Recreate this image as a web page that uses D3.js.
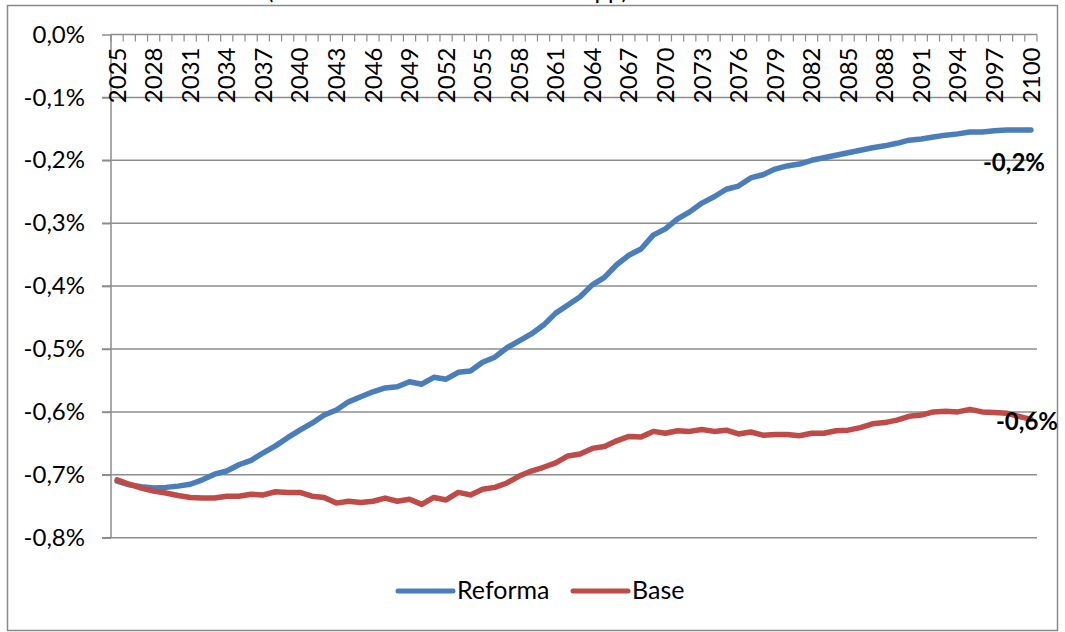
<!DOCTYPE html>
<meta charset="utf-8">
<style>
  body { margin: 0; background: #fff; }
  svg { font-family: "Lato", "Open Sans", sans-serif; }
</style>
<svg width="1065" height="632"></svg>
<script src="https://d3js.org/d3.v7.min.js"></script>
<script>

// years on the category axis
var years = d3.range(2025, 2101);

// label every third year
var tickYears = years.filter(function(d, i) { return i % 3 === 0; });

// y axis ticks (in %)
var yTicks = [0, -0.1, -0.2, -0.3, -0.4, -0.5, -0.6, -0.7, -0.8];

// series values, %
var reforma = [
  -0.710, -0.716, -0.719, -0.721, -0.720, -0.718, -0.715, -0.708, -0.699, -0.694,
  -0.684, -0.677, -0.665, -0.654, -0.641, -0.629, -0.618, -0.605, -0.597, -0.584,
  -0.576, -0.568, -0.562, -0.560, -0.552, -0.556, -0.545, -0.548, -0.537, -0.535,
  -0.521, -0.513, -0.498, -0.487, -0.476, -0.462, -0.443, -0.430, -0.417, -0.398,
  -0.386, -0.366, -0.351, -0.341, -0.319, -0.309, -0.293, -0.282, -0.268, -0.258,
  -0.246, -0.241, -0.228, -0.223, -0.214, -0.209, -0.206, -0.200, -0.196, -0.192,
  -0.188, -0.184, -0.180, -0.177, -0.173, -0.168, -0.166, -0.163, -0.160, -0.158,
  -0.155, -0.155, -0.153, -0.152, -0.152, -0.152
];

var base = [
  -0.708, -0.715, -0.721, -0.726, -0.729, -0.733, -0.736, -0.737, -0.737, -0.734,
  -0.734, -0.731, -0.732, -0.727, -0.728, -0.728, -0.734, -0.736, -0.745, -0.742,
  -0.744, -0.742, -0.737, -0.742, -0.739, -0.747, -0.736, -0.740, -0.728, -0.732,
  -0.723, -0.720, -0.713, -0.702, -0.694, -0.688, -0.681, -0.670, -0.667, -0.658,
  -0.655, -0.646, -0.639, -0.640, -0.631, -0.634, -0.630, -0.631, -0.628, -0.631,
  -0.629, -0.635, -0.632, -0.637, -0.636, -0.636, -0.638, -0.634, -0.634, -0.630,
  -0.629, -0.625, -0.619, -0.617, -0.613, -0.607, -0.605, -0.600, -0.599, -0.600,
  -0.596, -0.600, -0.601, -0.602, -0.607, -0.612
];

var seriesNames = ["Reforma", "Base"];
var seriesColors = ["#4a7ebb", "#be4b48"];

var svg = d3.select("svg");

var locale = d3.formatLocale({
  decimal: ",", thousands: ".", grouping: [3], currency: ["", " €"], minus: "-"
});
var fmt = locale.format(".1f");

var plotL = 111, plotR = 1037, plotT = 34.5, plotB = 537.7;

var x = d3.scaleBand().domain(years).range([plotL, plotR]).padding(0);
var y = d3.scaleLinear().domain([-0.8, 0]).range([plotB, plotT]);

// outer frame
svg.append("rect")
  .attr("x", 7.5).attr("y", 5.5)
  .attr("width", 1050).attr("height", 625)
  .attr("fill", "none")
  .attr("stroke", "#8a8a8a")
  .attr("stroke-width", 1.5);

// title, mostly cut off by the top of the picture
svg.append("text")
  .attr("x", 267).attr("y", -1)
  .attr("textLength", 361)
  .attr("font-size", 24)
  .attr("fill", "#000")
  .text("(diferencia en relación al escenario base en p.p.)");

// horizontal gridlines (below zero)
svg.append("g")
  .selectAll("line")
  .data(yTicks.filter(function(d) { return d !== 0; }))
  .enter().append("line")
    .attr("x1", plotL - 9).attr("x2", plotR)
    .attr("y1", function(d) { return y(d); })
    .attr("y2", function(d) { return y(d); })
    .attr("stroke", "#8c8c8c")
    .attr("stroke-width", 1.5);

// y axis
var yAxis = svg.append("g")
  .attr("transform", "translate(" + plotL + ",0)")
  .call(d3.axisLeft(y).tickValues(yTicks).tickSize(9).tickPadding(17)
    .tickFormat(function(d) { return fmt(d) + "%"; }));
yAxis.selectAll("path, line").attr("stroke", "#8c8c8c").attr("stroke-width", 1.5);
yAxis.select(".domain").attr("d", "M0," + plotT + "V" + plotB);
yAxis.selectAll("text")
  .attr("font-family", "Lato, sans-serif")
  .attr("font-size", 24)
  .attr("fill", "#000");

// x axis along the zero line, labels below it
var xg = svg.append("g");
xg.append("line")
  .attr("x1", plotL).attr("x2", plotR)
  .attr("y1", y(0)).attr("y2", y(0))
  .attr("stroke", "#8c8c8c").attr("stroke-width", 1.5);

var bounds = years.map(function(d) { return x(d); }).concat([plotR]);
xg.selectAll(".tick")
  .data(bounds)
  .enter().append("line")
    .attr("x1", function(d) { return d; })
    .attr("x2", function(d) { return d; })
    .attr("y1", y(0)).attr("y2", y(0) + 7)
    .attr("stroke", "#8c8c8c").attr("stroke-width", 1.2);

xg.selectAll(".lbl")
  .data(tickYears)
  .enter().append("text")
    .attr("transform", function(d) {
      return "translate(" + (x(d) + x.bandwidth() / 2) + "," + (y(0) + 13) + ") rotate(-90)";
    })
    .attr("text-anchor", "end")
    .attr("dy", "0.36em")
    .attr("font-size", 24)
    .attr("fill", "#000")
    .text(function(d) { return d; });

// lines
var line = d3.line()
  .x(function(d, i) { return x(years[i]) + x.bandwidth() / 2; })
  .y(function(d) { return y(d); });

[reforma, base].forEach(function(s, k) {
  svg.append("path")
    .datum(s)
    .attr("fill", "none")
    .attr("stroke", seriesColors[k])
    .attr("stroke-width", 5.5)
    .attr("stroke-linejoin", "round")
    .attr("stroke-linecap", "round")
    .attr("d", line);
});

// end labels
var lastX = x(years[years.length - 1]) + x.bandwidth() / 2;
svg.append("text")
  .attr("x", lastX - 48)
  .attr("y", y(reforma[reforma.length - 1]) + 41)
  .attr("font-size", 24).attr("font-weight", "bold")
  .text(fmt(reforma[reforma.length - 1]) + "%");
svg.append("text")
  .attr("x", lastX - 35)
  .attr("y", y(base[base.length - 1]) + 11)
  .attr("font-size", 24).attr("font-weight", "bold")
  .text(fmt(base[base.length - 1]) + "%");

// legend
var legendX = [398, 573];
var legend = svg.append("g")
  .selectAll("g")
  .data(seriesNames)
  .enter().append("g")
    .attr("transform", function(d, i) { return "translate(" + legendX[i] + ",591)"; });

legend.append("line")
  .attr("x1", 0).attr("x2", 55)
  .attr("stroke", function(d, i) { return seriesColors[i]; })
  .attr("stroke-width", 5)
  .attr("stroke-linecap", "round");

legend.append("text")
  .attr("x", 59).attr("y", 8)
  .attr("font-size", 25)
  .text(function(d) { return d; });

</script>
